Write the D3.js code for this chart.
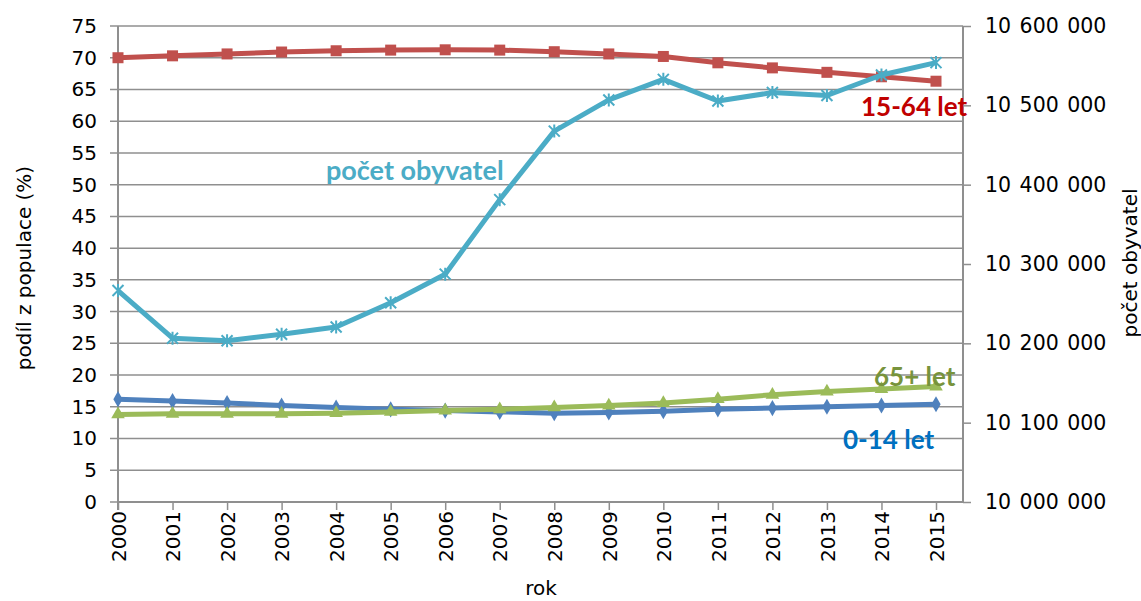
<!DOCTYPE html>
<html><head><meta charset="utf-8">
<script src="https://cdn.jsdelivr.net/npm/d3@7"></script>
<style>
html,body{margin:0;padding:0;background:#fff;}
svg{display:block;}
</style></head>
<body>
<script>
const years = [2000,2001,2002,2003,2004,2005,2006,2007,2008,2009,2010,2011,2012,2013,2014,2015];
const age0_14 = [16.2,15.9,15.6,15.2,14.9,14.6,14.4,14.2,14.0,14.1,14.3,14.6,14.8,15.0,15.2,15.4];
const age15_64 = [70.0,70.3,70.6,70.9,71.1,71.2,71.25,71.2,70.95,70.6,70.2,69.2,68.4,67.7,67.0,66.3];
const age65 = [13.8,13.9,13.9,13.9,14.0,14.2,14.4,14.6,14.9,15.2,15.6,16.2,16.9,17.4,17.8,18.2];
const population = [10266546,10206436,10203269,10211455,10220577,10251079,10287189,10381130,10467542,10506813,10532770,10505445,10516125,10512419,10538275,10553843];
const leftTicks = [0,5,10,15,20,25,30,35,40,45,50,55,60,65,70,75];
const rightTicks = [10000000,10100000,10200000,10300000,10400000,10500000,10600000];

(function () {
const W = 1141, H = 601;
const svg = d3.select("body").append("svg").attr("width", W).attr("height", H);

const pL = 118, pR = 963, pT = 26, pB = 502;
const x = d3.scaleLinear().domain([2000, 2015]).range([pL, 936]);
const y = d3.scaleLinear().domain([0, 75]).range([pB, pT]);
const y2 = d3.scaleLinear().domain([10000000, 10600000]).range([pB, pT]);

const gridColor = "#8f8f8f";
const tickFont = "DejaVu Sans, Verdana, sans-serif";

// gridlines
svg.append("g").selectAll("line").data(leftTicks).join("line")
  .attr("x1", pL - 8).attr("x2", pR)
  .attr("y1", d => y(d)).attr("y2", d => y(d))
  .attr("stroke", gridColor).attr("stroke-width", 1.5);

// left axis
const gl = svg.append("g").attr("transform", `translate(${pL},0)`)
  .call(d3.axisLeft(y).tickValues(leftTicks).tickSize(8).tickPadding(13));
gl.select(".domain").remove();
gl.selectAll("line").remove();
gl.selectAll("text").attr("font-family", tickFont).attr("font-size", 20).attr("fill", "#000");
svg.append("line").attr("x1", pL).attr("x2", pL).attr("y1", pT).attr("y2", pB + 8)
  .attr("stroke", gridColor).attr("stroke-width", 2);

// right axis
const gr = svg.append("g").attr("transform", `translate(${pR},0)`)
  .call(d3.axisRight(y2).tickValues(rightTicks).tickSize(8).tickPadding(14)
    .tickFormat(d => d3.format(",")(d).replace(/,/g, " ")));
gr.select(".domain").remove();
gr.selectAll("line").attr("stroke", gridColor).attr("stroke-width", 1.5);
gr.selectAll("text").attr("font-family", tickFont).attr("font-size", 20.5).attr("fill", "#000")
  .attr("word-spacing", 2);
svg.append("line").attr("x1", pR).attr("x2", pR).attr("y1", pT).attr("y2", pB)
  .attr("stroke", gridColor).attr("stroke-width", 2);

// bottom axis
const gb = svg.append("g").attr("transform", `translate(0,${pB})`)
  .call(d3.axisBottom(x).tickValues(years).tickSize(8).tickFormat(d3.format("d")));
gb.select(".domain").remove();
gb.selectAll("line").attr("stroke", gridColor).attr("stroke-width", 1.5);
gb.selectAll("text").attr("font-family", tickFont).attr("font-size", 20).attr("fill", "#000")
  .attr("transform", "rotate(-90)").attr("text-anchor", "end")
  .attr("x", -9).attr("y", 0).attr("dy", "0.36em");
svg.append("line").attr("x1", pL).attr("x2", pR).attr("y1", pB).attr("y2", pB)
  .attr("stroke", gridColor).attr("stroke-width", 2);

// axis titles
svg.append("text").attr("transform", "translate(31,268) rotate(-90)")
  .attr("text-anchor", "middle").attr("font-family", tickFont).attr("font-size", 20)
  .text("podíl z populace (%)");
svg.append("text").attr("transform", "translate(1137,263) rotate(-90)")
  .attr("text-anchor", "middle").attr("font-family", tickFont).attr("font-size", 20)
  .text("počet obyvatel");
svg.append("text").attr("x", 541).attr("y", 595)
  .attr("text-anchor", "middle").attr("font-family", tickFont).attr("font-size", 20)
  .text("rok");

// series
const lw = 5;
function drawLine(vals, scale, color) {
  const line = d3.line().x((d, i) => x(years[i])).y(d => scale(d));
  svg.append("path").datum(vals).attr("d", line).attr("fill", "none")
    .attr("stroke", color).attr("stroke-width", lw).attr("stroke-linejoin", "round");
}

// 0-14 (blue diamonds)
const cBlue = "#4F81BD";
drawLine(age0_14, y, cBlue);
svg.append("g").selectAll("path").data(age0_14).join("path")
  .attr("d", d3.symbol(d3.symbolDiamond, 75))
  .attr("transform", (d, i) => `translate(${x(years[i])},${y(d)})`)
  .attr("fill", cBlue);

// 15-64 (red squares)
const cRed = "#C0504D";
drawLine(age15_64, y, cRed);
svg.append("g").selectAll("rect").data(age15_64).join("rect")
  .attr("x", (d, i) => x(years[i]) - 5.5).attr("y", d => y(d) - 5.5)
  .attr("width", 11).attr("height", 11).attr("fill", cRed);

// 65+ (green triangles)
const cGreen = "#9BBB59";
drawLine(age65, y, cGreen);
svg.append("g").selectAll("path").data(age65).join("path")
  .attr("d", d3.symbol(d3.symbolTriangle, 80))
  .attr("transform", (d, i) => `translate(${x(years[i])},${y(d)})`)
  .attr("fill", cGreen);

// population (cyan stars)
const cCyan = "#4BACC6";
drawLine(population, y2, cCyan);
svg.append("g").selectAll("path").data(population).join("path")
  .attr("d", "M-5.5,-5.5L5.5,5.5M-5.5,5.5L5.5,-5.5M0,-6.5L0,6.5")
  .attr("transform", (d, i) => `translate(${x(years[i])},${y2(d)})`)
  .attr("stroke", cCyan).attr("stroke-width", 2).attr("fill", "none");

// labels
const lblFont = "Lato, 'Open Sans', sans-serif";
function label(txt, xx, yy, color, fs) {
  svg.append("text").attr("x", xx).attr("y", yy).attr("font-family", lblFont)
    .attr("font-weight", "bold").attr("font-size", fs).attr("fill", color).text(txt);
}
label("15-64 let", 861, 116, "#C00000", 26);
label("počet obyvatel", 326, 180, "#4BACC6", 27);
label("65+ let", 874, 386, "#77933C", 26);
label("0-14 let", 843, 449, "#0070C0", 26);
})();
</script>
</body></html>
